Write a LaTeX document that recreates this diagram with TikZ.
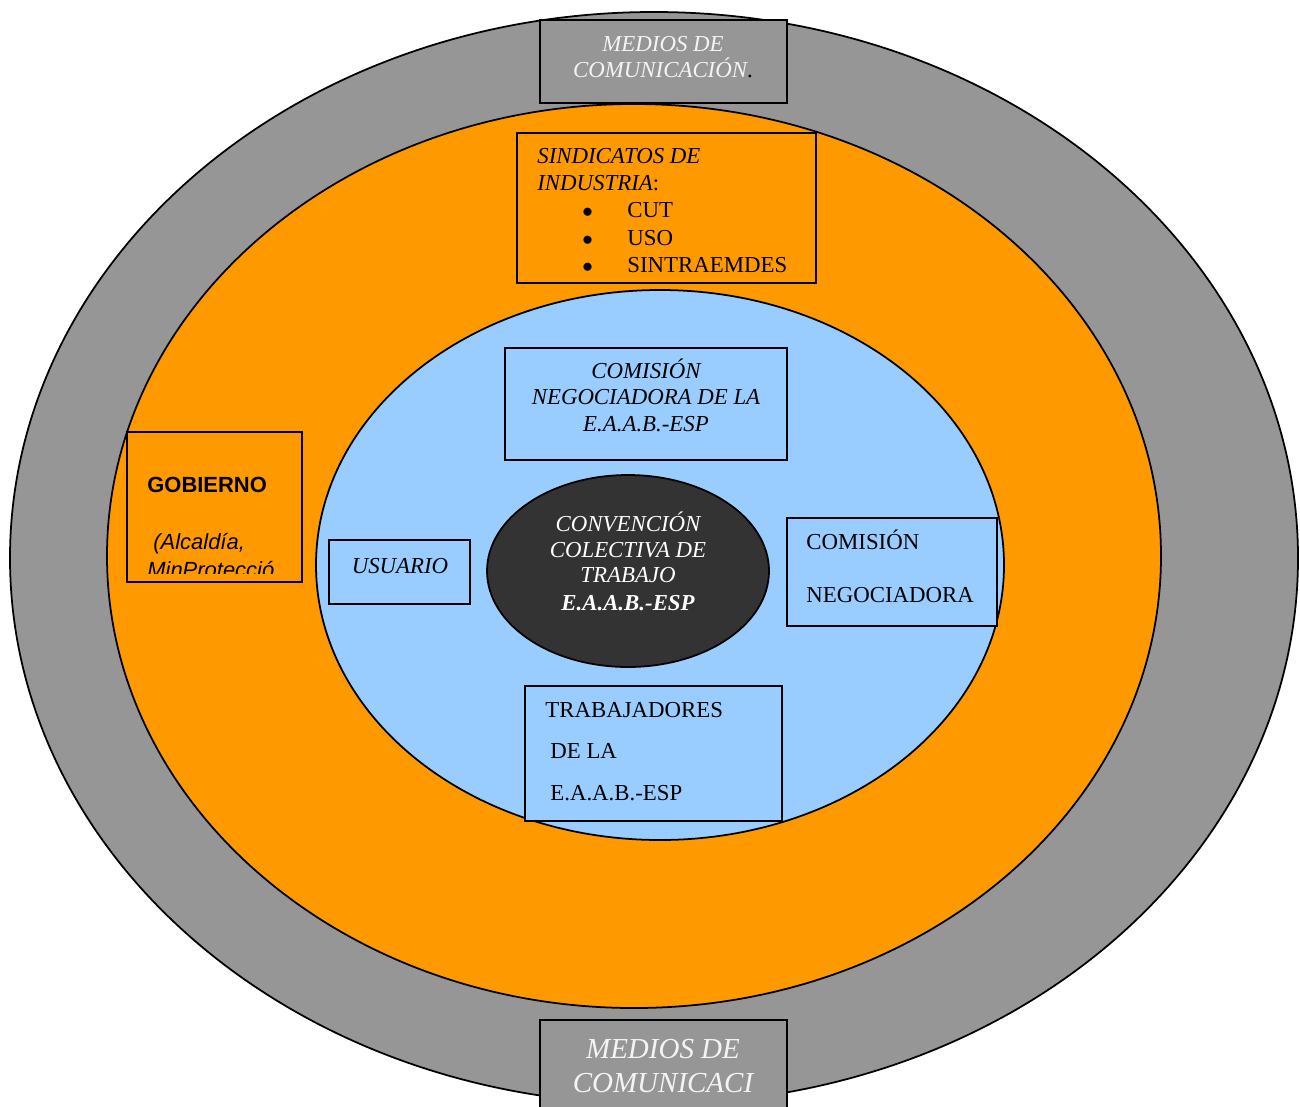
\documentclass[tikz,border=0pt]{standalone}
\usepackage{fontspec}
\setmainfont{Liberation Serif}
\setsansfont{Liberation Sans}
\definecolor{grisext}{HTML}{969696}
\definecolor{naranja}{HTML}{FF9900}
\definecolor{celeste}{HTML}{99CCFF}
\definecolor{oscuro}{HTML}{333333}
\definecolor{blanco}{HTML}{F4F4F4}
\begin{document}
\begin{tikzpicture}[x=0.02cm, y=-0.02cm,
    anillo/.style={draw=black, line width=1pt},
    marco/.style={draw=black, line width=1.4pt},
    txt/.style={inner sep=0pt, anchor=base, align=center, font=\fontsize{13}{15}\selectfont},
    txtizq/.style={inner sep=0pt, anchor=base west, font=\fontsize{13}{15}\selectfont}]
    \useasboundingbox (0,0) rectangle (1300,1106);

    % Rings
    \filldraw[anillo, fill=grisext] (654,558) ellipse [x radius=644, y radius=546];
    \filldraw[anillo, fill=naranja] (634,556) ellipse [x radius=527, y radius=452];
    \filldraw[anillo, fill=celeste] (660,565) ellipse [x radius=344, y radius=275];
    \filldraw[anillo, fill=oscuro] (628,571) ellipse [x radius=141, y radius=96];

    % Medios de comunicacion (top)
    \filldraw[marco, fill=grisext] (540,20) rectangle (787,103);
    \node[txt, text=blanco] (mediosA) at (663,51) {\itshape MEDIOS DE};
    \node[txt, text=blanco] (mediosB) at (663,77) {\itshape COMUNICACIÓN{\upshape\color{black}.}};

    % Sindicatos
    \filldraw[marco, fill=naranja] (517,133) rectangle (816,283);
    \node[txtizq] (sindA) at (537,163) {\itshape SINDICATOS DE};
    \node[txtizq] (sindB) at (537,190) {\itshape INDUSTRIA\upshape:};
    \foreach \y/\t/\n in {217/CUT/cut, 245/USO/uso, 272/SINTRAEMDES/sintra} {
        \node[txtizq] (bul\n) at (582,\y) {$\bullet$};
        \node[txtizq] (\n) at (627,\y) {\t};
    }

    % Comision negociadora de la E.A.A.B.
    \filldraw[marco, fill=celeste] (505,348) rectangle (787,460);
    \node[txt] (comA) at (646,378) {\itshape COMISIÓN};
    \node[txt] (comB) at (646,404) {\itshape NEGOCIADORA DE LA};
    \node[txt] (comC) at (646,431) {\itshape E.A.A.B.-ESP};

    % Gobierno
    \fill[naranja] (127,432) rectangle (302,582);
    \begin{scope}
        \clip (128,433) rectangle (301,573);
        \node[inner sep=0pt, anchor=base west, font=\sffamily\bfseries\fontsize{12.5}{15}\selectfont] (gob) at (147,492) {GOBIERNO};
        \node[inner sep=0pt, anchor=base west, font=\sffamily\itshape\fontsize{12.5}{15}\selectfont] (gobA) at (153,549) {(Alcaldía,};
        \node[inner sep=0pt, anchor=base west, font=\sffamily\itshape\fontsize{12.5}{15}\selectfont] (gobB) at (147,577) {MinProtecció};
    \end{scope}
    \draw[marco] (127,432) rectangle (302,582);

    % Usuario
    \filldraw[marco, fill=celeste] (329,540) rectangle (470,604);
    \node[txt] (usuario) at (400,573) {\itshape USUARIO};

    % Comision negociadora (right)
    \filldraw[marco, fill=celeste] (787,518) rectangle (997,626);
    \node[txtizq] (negA) at (806,549) {COMISIÓN};
    \node[txtizq] (negB) at (806,602) {NEGOCIADORA};

    % Trabajadores
    \filldraw[marco, fill=celeste] (525,686) rectangle (782,821);
    \node[txtizq] (trabA) at (545,717) {TRABAJADORES};
    \node[txtizq] (trabB) at (550,758) {DE LA};
    \node[txtizq] (trabC) at (550,800) {E.A.A.B.-ESP};

    % Convencion colectiva
    \node[txt, text=white] (convA) at (628,531) {\itshape CONVENCIÓN};
    \node[txt, text=white] (convB) at (628,557) {\itshape COLECTIVA DE};
    \node[txt, text=white] (convC) at (628,582) {\itshape TRABAJO};
    \node[txt, text=white] (convD) at (628,610) {\bfseries\itshape E.A.A.B.-ESP};

    % Medios de comunicacion (bottom)
    \filldraw[marco, fill=grisext] (540,1020) rectangle (787,1115);
    \node[txt, text=blanco, font=\fontsize{16.5}{19}\selectfont] (mediosC) at (663,1058) {\itshape MEDIOS DE};
    \node[txt, text=blanco, font=\fontsize{16.5}{19}\selectfont] (mediosD) at (663,1092) {\itshape COMUNICACI};
\end{tikzpicture}
\end{document}
